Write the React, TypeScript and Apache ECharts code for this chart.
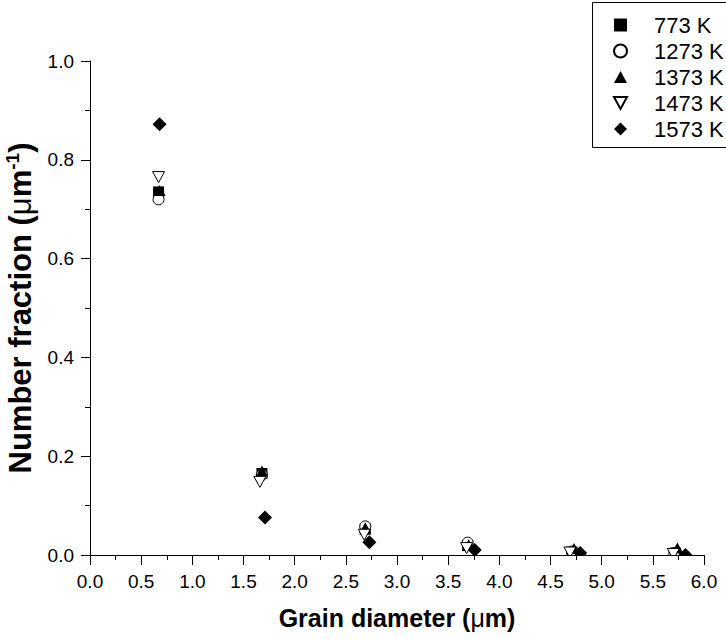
import React, { useEffect, useRef } from "react";
import * as echarts from "echarts";

const seriesNames = ["773 K", "1273 K", "1373 K", "1473 K", "1573 K"];

const x773 = [0.67, 1.68, 2.69, 3.69, 4.71, 5.72];
const y773 = [0.735, 0.165, 0.052, 0.019, 0.006, 0.004];

const x1273 = [0.67, 1.68, 2.69, 3.69, 4.71, 5.71];
const y1273 = [0.72, 0.162, 0.058, 0.025, 0.007, 0.004];

const x1373 = [0.68, 1.68, 2.69, 3.70, 4.73, 5.74];
const y1373 = [0.738, 0.17, 0.055, 0.021, 0.013, 0.014];

const x1473 = [0.67, 1.66, 2.68, 3.68, 4.69, 5.70];
const y1473 = [0.765, 0.148, 0.041, 0.014, 0.005, 0.002];

const x1573 = [0.68, 1.71, 2.73, 3.76, 4.79, 5.82];
const y1573 = [0.872, 0.076, 0.026, 0.010, 0.004, 0.0];

const xTickLabels = ["0.0", "0.5", "1.0", "1.5", "2.0", "2.5", "3.0", "3.5", "4.0", "4.5", "5.0", "5.5", "6.0"];
const yTickLabels = ["0.0", "0.2", "0.4", "0.6", "0.8", "1.0"];

const FONT = "'Liberation Sans', Arial, sans-serif";

const pair = (xs: number[], ys: number[]) => xs.map((x, i) => [x, ys[i]]);

const SQUARE = "path://M0,0 L10,0 L10,10 L0,10 Z";
const UP_TRI = "path://M6,0 L12,11 L0,11 Z";
const DOWN_TRI = "path://M0,0 L12,0 L6,11 Z";
const DIAMOND = "path://M7,0 L14,7 L7,14 L0,7 Z";

export default function App() {
  const ref = useRef<HTMLDivElement>(null);
  useEffect(() => {
    if (!ref.current) return;
    const chart = echarts.init(ref.current, undefined, { renderer: "svg" });
    const black = "#000";
    const mk = (name: string, data: number[][], symbol: string, size: number, fill: string, z = 2) => ({
      name,
      type: "scatter",
      data,
      symbol,
      symbolSize: size,
      symbolKeepAspect: true,
      z,
      itemStyle: { color: fill, borderColor: black, borderWidth: fill === "#fff" ? 1 : 0, opacity: 1 },
      emphasis: { disabled: true },
    });
    chart.setOption({
      animation: false,
      backgroundColor: "#fff",
      textStyle: { fontFamily: FONT, color: black },
      grid: { left: 90, right: 22, top: 61, bottom: 84, containLabel: false, outerBoundsMode: "none" },
      legend: {
        orient: "vertical",
        left: 592,
        top: 2,
        align: "left",
        padding: [12, 0, 7, 21],
        itemGap: 4,
        itemWidth: 13,
        itemHeight: 13,
        symbolKeepAspect: true,
        borderWidth: 0,
        textStyle: { fontSize: 22, fontFamily: FONT, color: black, lineHeight: 22, padding: [0, 0, 0, 22] },
        data: seriesNames,
      },
      xAxis: {
        type: "value",
        min: 0,
        max: 6,
        interval: 0.5,
        z: 10,
        name: "{b|Grain diameter (}{m|μ}{b|m)}",
        nameLocation: "middle",
        nameGap: 50,
        nameTextStyle: {
          rich: {
            b: { fontSize: 25, fontWeight: "bold", fontFamily: FONT, color: black },
            m: { fontSize: 25, fontFamily: FONT, color: black },
          },
        },
        axisLine: { show: true, lineStyle: { color: black, width: 1 } },
        axisTick: { show: true, length: 10, lineStyle: { color: black } },
        minorTick: { show: true, splitNumber: 2, length: 5, lineStyle: { color: black } },
        splitLine: { show: false },
        axisLabel: {
          fontSize: 19,
          color: black,
          fontFamily: FONT,
          margin: 17,
          formatter: (v: number) => xTickLabels[Math.round(v / 0.5)] ?? "",
        },
      },
      yAxis: {
        type: "value",
        min: 0,
        max: 1,
        interval: 0.2,
        z: 10,
        name: "{b|Number fraction (}{m|μ}{b|m}{s|-1}{b|)}",
        nameLocation: "middle",
        nameGap: 53,
        nameTextStyle: {
          rich: {
            b: { fontSize: 31, fontWeight: "bold", fontFamily: FONT, color: black, lineHeight: 34 },
            m: { fontSize: 31, fontFamily: FONT, color: black, lineHeight: 34 },
            s: { fontSize: 19, fontWeight: "bold", fontFamily: FONT, color: black, verticalAlign: "top", lineHeight: 19 },
          },
        },
        axisLine: { show: true, lineStyle: { color: black, width: 1 } },
        axisTick: { show: true, length: 9, lineStyle: { color: black } },
        minorTick: { show: true, splitNumber: 2, length: 5, lineStyle: { color: black } },
        splitLine: { show: false },
        axisLabel: {
          fontSize: 19,
          color: black,
          fontFamily: FONT,
          margin: 16,
          formatter: (v: number) => yTickLabels[Math.round(v / 0.2)] ?? "",
        },
      },
      graphic: [
        {
          type: "rect",
          z: 5,
          silent: true,
          shape: { x: 91, y: 556, width: 640, height: 83 },
          style: { fill: "#fff" },
        },
        {
          type: "rect",
          z: 1,
          silent: true,
          shape: { x: 592.5, y: 2.5, width: 160, height: 145 },
          style: { fill: "#fff", stroke: black, lineWidth: 1 },
        },
      ],
      series: [
        mk(seriesNames[0], pair(x773, y773), SQUARE, 11, black),
        mk(seriesNames[1], pair(x1273, y1273), "circle", 11, "#fff"),
        mk(seriesNames[2], pair(x1373, y1373), UP_TRI, 12, black),
        mk(seriesNames[3], pair(x1473, y1473), DOWN_TRI, 12, "#fff"),
        mk(seriesNames[4], pair(x1573, y1573), DIAMOND, 14, black),
      ],
    });
    return () => chart.dispose();
  }, []);
  return <div ref={ref} style={{ position: "fixed", left: 0, top: 0, width: 726, height: 639 }} />;
}
